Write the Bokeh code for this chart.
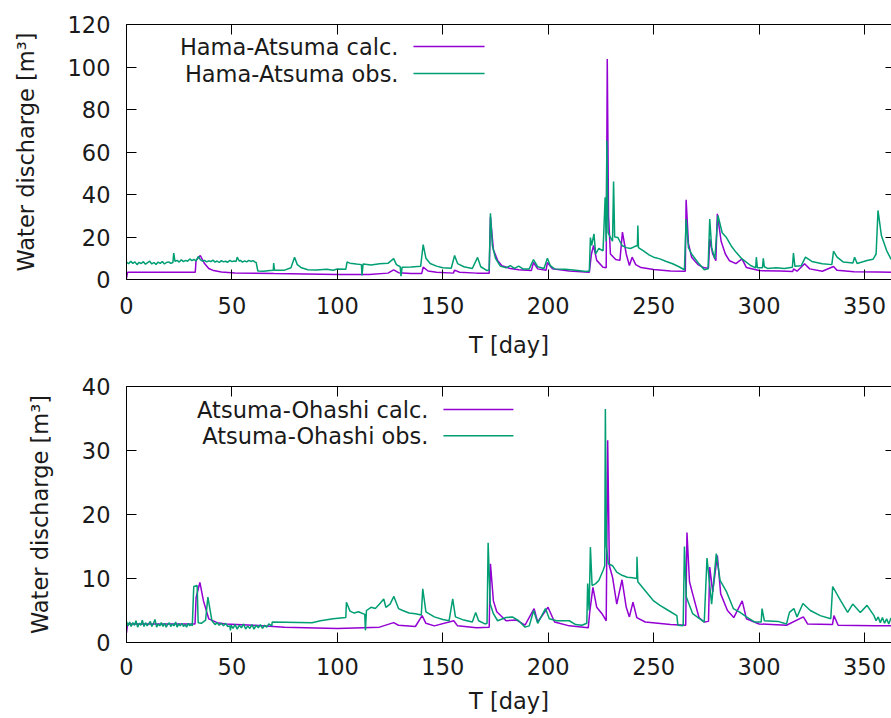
from bokeh.plotting import figure
from bokeh.layouts import column
from bokeh.models import LinearAxis, FixedTicker, Range1d, Label, Arrow
from bokeh.embed import file_html
from bokeh.resources import INLINE

# ---------------- data ----------------
x_ticks = [0, 50, 100, 150, 200, 250, 300, 350]
top_y_ticks = [0, 20, 40, 60, 80, 100, 120]
bot_y_ticks = [0, 10, 20, 30, 40]

# Hama-Atsuma, calculated: (day, discharge)
ha_calc = [(0, 0.5), (0.5, 3.4), (32.6, 3.4), (33.0, 9.0), (35.0, 11.3), (37.0, 7.5), (39.0, 5.2),
           (41.3, 4.2), (45, 3.5), (51.4, 3.1), (70, 2.8), (100, 2.4), (115, 2.4), (124, 3.0),
           (126.7, 4.5), (129, 3.2), (135, 2.8), (140.0, 2.8), (140.7, 5.8), (143, 4.0), (147, 3.4),
           (155, 3.0), (155.6, 4.4), (158, 3.4), (166, 3.0), (172.0, 3.0), (172.6, 29.5), (174, 14),
           (176, 9), (178, 6.5), (182, 5.2), (186, 4.6), (192, 4.2), (193, 8.0), (195, 5.0),
           (199, 4.4), (199.6, 8.0), (202, 5.0), (210, 4.0), (219.5, 3.4), (220.5, 12), (221.5, 16),
           (223, 9), (226, 5.8), (227.5, 5.5), (228.0, 103.8), (228.6, 30), (229.5, 12), (232, 9.4),
           (234, 9), (235.2, 22.3), (237, 12), (238.5, 6.6), (239.8, 10.5), (241.5, 7), (244, 5.6),
           (250, 4.7), (258, 4.0), (265.0, 3.9), (265.4, 37.5), (266.5, 17), (268, 10.5), (271, 7),
           (274, 5.5), (276.0, 5.3), (276.6, 19.1), (278, 12), (279.5, 8.8), (280.2, 30.9),
           (282, 18), (284, 12), (286, 8.8), (289, 7.5), (291.9, 9.7), (294, 5.6), (300, 4.2),
           (310, 4.0), (316, 3.8), (316.3, 5), (318, 3.9), (321.6, 7.4), (324, 5), (330, 3.9),
           (335.3, 6.1), (337, 4.3), (345, 3.6), (356, 3.5), (365, 3.4)]

# Hama-Atsuma, observed: (day, discharge)
ha_obs = [(0, 8.2), (1, 7.4), (2, 8.6), (3, 7.6), (4, 8.3), (5, 7.0), (6, 8.1), (7, 7.5), (8, 8.4),
          (9, 7.2), (10, 7.9), (11, 8.6), (12, 7.3), (13, 8.0), (14, 7.1), (15, 8.2), (16, 7.6),
          (17, 8.5), (18, 7.3), (19, 8.0), (20, 8.3), (21, 7.6), (22, 8.0), (22.4, 12.4), (23, 8.5),
          (24, 9.0), (25, 8.2), (26, 9.3), (27, 8.4), (28, 9.0), (29, 8.6), (30, 9.7), (31, 8.9),
          (32, 9.5), (33, 8.8), (34, 10.8), (35, 9.4), (36, 8.7), (37, 9.0), (38, 8.3), (39, 8.8),
          (40, 8.4), (41, 9.1), (42, 8.2), (43, 8.7), (44, 8.0), (45, 8.9), (46, 8.3), (47, 8.6),
          (48, 8.1), (49, 9.0), (50, 8.4), (51, 8.7), (52, 8.5), (52.5, 10.5), (53.5, 8.6),
          (54, 9.0), (55, 8.2), (56, 8.8), (57, 8.3), (58, 9.0), (59, 8.5), (60, 8.9), (61, 8.2),
          (61.5, 8.0), (62.3, 4.0), (65, 3.9), (68, 4.2), (69.6, 4.3), (69.8, 7.7), (70.2, 4.3),
          (75, 4.4), (78, 5.5), (79.7, 10.5), (81, 7), (83, 5.5), (86, 4.6), (90, 4.5), (95, 4.8),
          (98, 4.4), (100, 4.9), (104.0, 4.8), (104.6, 8.2), (106, 7.7), (109, 7.3), (111.4, 7.0),
          (111.7, 1.9), (112.2, 7.3), (116, 6.8), (120, 7.4), (124, 7.6), (126.7, 9.8), (128, 7.0),
          (129.8, 6.0), (130.2, 1.6), (130.7, 5.8), (135, 5.9), (139.5, 6.2), (140.7, 16.4),
          (142, 10), (144, 7.5), (147, 6.3), (150, 5.5), (154, 5.3), (155.6, 11.3), (157, 7.5),
          (160, 6.0), (164, 5.2), (166.5, 10.4), (168, 6), (171, 4.2), (172.0, 4.5), (172.6, 31.2),
          (173.5, 16), (175, 10), (177.3, 6.3), (180, 5.5), (182, 6.5), (184, 5.2), (186, 6.3),
          (188, 5.0), (191, 5.0), (193, 9.4), (195, 6.0), (198, 5.2), (199.6, 10.0), (201, 6.5),
          (203, 5.0), (208, 4.8), (213, 4.4), (218, 3.8), (219.5, 4.0), (220, 19.7), (220.6, 16),
          (221.7, 21.5), (222.5, 12), (224, 14.6), (226, 13.5), (227, 38.7), (227.5, 18),
          (227.8, 65.4), (228.4, 22), (229.5, 19.8), (230.5, 18), (231.0, 46.1), (231.5, 20),
          (233, 19.8), (235, 16), (237, 15), (239, 14.6), (241, 15.5), (242.3, 16), (242.5, 25.4),
          (242.8, 15), (245, 13.6), (248, 11.5), (250, 10.5), (253, 9.7), (256, 8.5), (259, 7.4),
          (262, 6.0), (264.6, 4.6), (265.4, 28.5), (266.5, 15), (268, 12), (271, 8), (274, 4.6),
          (275.8, 5), (276.6, 28.5), (277.5, 15), (279.0, 9.7), (280.5, 30.1), (282.5, 22),
          (284.4, 19.9), (287, 15.5), (289, 12.9), (291.9, 9.7), (293, 8.9), (296, 6.6),
          (298.4, 5.5), (298.7, 10.5), (299.2, 5.5), (301.6, 5.5), (302, 10.0), (302.5, 6.0),
          (304, 5.2), (308, 5.5), (312, 5.2), (315.8, 5.8), (316.3, 12.4), (317, 6.2), (320, 6.5),
          (322, 10.5), (325, 8.5), (330, 7.4), (334.5, 7.0), (335.3, 13.3), (337, 10.5), (340, 8.2),
          (344.5, 7.8), (345.3, 10.5), (346.5, 7.5), (351.2, 8.9), (354, 9.5), (355.5, 12),
          (356.4, 32.5), (358, 20.7), (360.5, 13.6), (362.5, 9.7), (365, 8.5)]

# Atsuma-Ohashi, calculated: (day, discharge)
ao_calc = [(0, 1.5), (0.5, 2.9), (32.5, 2.9), (33.0, 7.0), (34.8, 9.4), (36.5, 6.5), (39.0, 3.7),
           (43, 3.1), (47, 2.9), (60, 2.7), (75, 2.4), (100, 2.2), (120, 2.4), (126.7, 3.1),
           (129, 2.7), (137, 2.5), (140.2, 4.2), (142, 3.0), (146, 2.6), (155.2, 3.4), (157, 2.6),
           (166, 2.3), (172.0, 2.4), (172.6, 12.3), (174, 6.5), (175.6, 4.8), (180, 3.4), (185, 3.5),
           (189, 2.7), (193.3, 5.3), (195, 3.2), (199.9, 5.5), (203, 3.2), (210, 2.6), (219, 2.3),
           (219.7, 4.8), (221.2, 8.6), (223, 5.5), (225.5, 4.5), (227.5, 3.4), (228.2, 31.6),
           (229, 12), (230.5, 10.2), (232.5, 6.0), (235, 9.8), (237, 5.5), (238.5, 4.0),
           (240.2, 6.3), (242, 3.9), (246, 3.2), (258, 2.8), (265.2, 2.7), (265.8, 17.2), (267, 9.5),
           (268.5, 7.6), (271.5, 3.9), (274, 3.2), (276.0, 3.3), (276.6, 11.8), (278, 7.9),
           (280.2, 13.6), (281.8, 7.6), (285, 5.0), (288, 3.9), (292, 6.5), (294, 3.7), (300, 2.9),
           (313, 2.7), (321, 4.0), (323, 2.9), (334.8, 2.8), (335.5, 4.2), (337.5, 2.7), (355, 2.6),
           (365, 2.6)]

# Atsuma-Ohashi, observed: (day, discharge)
ao_obs = [(0, 3.3), (0.7, 2.6), (1.5, 3.2), (2.2, 2.5), (3, 3.1), (3.8, 2.7), (4.5, 3.4), (5.3, 2.4),
          (6, 3.0), (6.8, 2.7), (7.5, 3.5), (8.3, 2.5), (9, 3.1), (9.8, 2.6), (10.5, 2.9),
          (11.3, 3.3), (12, 2.5), (12.8, 3.0), (13.5, 3.6), (14.3, 2.4), (15, 2.9), (15.8, 2.6),
          (16.5, 3.1), (17.3, 2.5), (18, 3.0), (18.8, 2.4), (19.5, 2.8), (20.3, 3.1), (21, 2.5),
          (21.8, 2.9), (22.5, 2.6), (23.3, 3.2), (24, 2.4), (24.8, 2.9), (25.5, 2.6), (26.3, 3.0),
          (27, 2.5), (27.8, 2.8), (28.5, 2.4), (29.3, 3.0), (30, 2.6), (30.8, 2.9), (31.2, 2.6),
          (31.9, 8.75), (33.5, 8.9), (34.0, 3.1), (35.5, 3.0), (37.5, 3.5), (38.6, 7.1), (40.5, 3.4),
          (42, 2.8), (43, 3.1), (44, 2.7), (45, 3.0), (46, 2.6), (47, 3.0), (48, 2.5), (49.0, 2.6),
          (49.3, 1.9), (49.6, 2.7), (50.5, 2.2), (51.5, 2.8), (52.5, 2.1), (53.5, 2.7), (54.5, 2.3),
          (55.5, 2.9), (56.5, 2.1), (57.5, 2.6), (58.5, 2.2), (59.5, 2.8), (60.5, 2.1), (61.5, 2.7),
          (62.5, 2.3), (63.5, 2.8), (64.5, 2.2), (65.5, 2.7), (66.5, 2.4), (67.5, 2.9), (68.9, 2.6),
          (69.1, 3.2), (88, 3.1), (92, 3.4), (98, 3.7), (104.0, 3.9), (104.3, 6.3), (106, 4.9),
          (108, 4.6), (110, 4.8), (113.0, 4.4), (113.3, 1.9), (113.8, 5.0), (116, 5.5), (118, 5.3),
          (120, 6.0), (122, 6.8), (123, 5.5), (125, 6.0), (126.8, 7.2), (129, 5.3), (131, 5.0),
          (134, 4.6), (137, 4.5), (139.8, 4.3), (140.5, 8.4), (142, 4.8), (146, 4.0), (150, 3.6),
          (153, 3.4), (154.7, 6.8), (156, 4.0), (160, 3.5), (164, 3.2), (165.6, 4.7), (167, 3.4),
          (170, 2.9), (171.0, 3.0), (171.5, 15.6), (172.5, 6), (174, 4.5), (176, 3.4), (180, 3.9),
          (183, 4.0), (186, 3.4), (189, 2.4), (191, 2.6), (193.1, 5.0), (195, 3.0), (198.7, 5.3),
          (200.5, 3.7), (204, 3.4), (210, 3.4), (213, 2.8), (216, 2.7), (218.3, 3.0), (218.7, 9.2),
          (219.4, 5), (220.0, 14.9), (220.8, 8.9), (222.5, 9.2), (224, 9.7), (226, 11.25),
          (226.8, 12), (227.1, 36.5), (227.6, 15), (228.5, 12.3), (230.5, 12.0), (232.5, 11.0),
          (235, 10.5), (237.5, 10.2), (240, 10.1), (242.0, 10.0), (242.1, 13.4), (242.5, 9.5),
          (246, 8.1), (250, 6.5), (253, 5.8), (257, 5.0), (261, 4.2), (261.5, 2.7), (264.0, 2.6),
          (264.6, 15.0), (265.5, 7.1), (268.5, 4.5), (274, 3.2), (275.3, 13.2), (277.5, 6.0),
          (279.7, 13.9), (281.5, 9.7), (284.6, 7.9), (287.8, 5.3), (291, 4.7), (294, 4.0),
          (298, 3.2), (301.0, 3.2), (301.4, 5.3), (302.5, 3.4), (309, 3.3), (313.0, 2.9),
          (314.4, 4.7), (316.5, 5.3), (318, 4.0), (320.8, 6.1), (324.3, 5.0), (329, 4.2),
          (334.0, 3.7), (334.9, 8.75), (338.6, 6.6), (342, 4.7), (344.4, 6.0), (348, 4.7),
          (351.2, 5.8), (354.5, 4.2), (355.5, 3.4), (356.5, 4.0), (357.5, 3.1), (358.5, 3.9),
          (359.5, 3.0), (360.5, 3.7), (361.5, 2.9), (362.5, 3.8), (365, 3.2)]

# ---------------- styling ----------------
FONT = "DejaVu Sans"
FS = "22.5px"
TXT = "#1a1a1a"
CALC = "#9400d3"
OBS = "#009e73"


def style_axis(ax, ticks, show_labels=True, tick_in=10, line=True):
    ax.ticker = FixedTicker(ticks=ticks)
    ax.axis_line_color = "black" if line else None
    ax.axis_line_width = 1
    ax.major_tick_in = tick_in
    ax.major_tick_out = 0
    ax.major_tick_line_color = "black"
    ax.minor_tick_line_color = None
    ax.major_label_text_font = FONT
    if show_labels:
        ax.major_label_text_color = TXT
        ax.major_label_text_font_size = FS
        ax.major_label_standoff = 16
    else:
        # mirror ticks only (gnuplot style): no labels drawn
        ax.major_label_text_color = None
        ax.major_label_text_font_size = "1px"
        ax.major_label_standoff = 0
    ax.axis_label_text_font = FONT
    ax.axis_label_text_font_size = FS
    ax.axis_label_text_font_style = "normal"
    ax.axis_label_text_color = TXT


def panel(y_max, y_ticks, calc, obs, calc_name, obs_name,
          leg_x, leg_y1, leg_y2, line_x0, line_x1, border_top, frame_h, border_bottom,
          x_lab_off, x_title_off):
    p = figure(width=891, height=border_top + frame_h + border_bottom,
               x_range=Range1d(0, 362.8), y_range=Range1d(0, y_max),
               output_backend="svg", toolbar_location=None,
               min_border_left=126, min_border_right=0,
               min_border_top=border_top, min_border_bottom=border_bottom)
    p.outline_line_color = None
    p.xgrid.visible = False
    p.ygrid.visible = False
    p.background_fill_color = "white"
    p.border_fill_color = "white"

    style_axis(p.xaxis[0], x_ticks)
    style_axis(p.yaxis[0], y_ticks)
    p.xaxis[0].major_label_standoff = x_lab_off
    p.xaxis[0].axis_label = "T [day]"
    p.yaxis[0].axis_label = "Water discharge [m³]"
    p.xaxis[0].axis_label_standoff = x_title_off
    p.yaxis[0].axis_label_standoff = 26

    top = LinearAxis()
    style_axis(top, x_ticks, show_labels=False)
    p.add_layout(top, "above")
    right = LinearAxis()
    style_axis(right, y_ticks, show_labels=False, tick_in=6, line=False)
    p.add_layout(right, "right")

    p.line([d for d, _ in calc], [v for _, v in calc], line_color=CALC, line_width=1.5)
    p.line([d for d, _ in obs], [v for _, v in obs], line_color=OBS, line_width=1.5)

    for name, yy, col in ((calc_name, leg_y1, CALC), (obs_name, leg_y2, OBS)):
        p.add_layout(Label(x=leg_x, y=yy, text=name, text_align="right", text_baseline="middle",
                           text_font=FONT, text_font_size=FS, text_color=TXT))
        p.add_layout(Arrow(x_start=line_x0, y_start=yy, x_end=line_x1, y_end=yy,
                           start=None, end=None, line_color=col, line_width=1.5))
    return p


p1 = panel(120, top_y_ticks, ha_calc, ha_obs,
           "Hama-Atsuma calc.", "Hama-Atsuma obs.",
           129.0, 109.6, 96.9, 136.1, 169.8, 24, 255, 86, 17, 15)
p2 = panel(40, bot_y_ticks, ao_calc, ao_obs,
           "Atsuma-Ohashi calc.", "Atsuma-Ohashi obs.",
           143.2, 36.4, 32.3, 150.3, 183.5, 21, 256, 76, 15, 10)

layout = column(p1, p2, spacing=0)
open("out.html", "w").write(file_html(layout, INLINE))
